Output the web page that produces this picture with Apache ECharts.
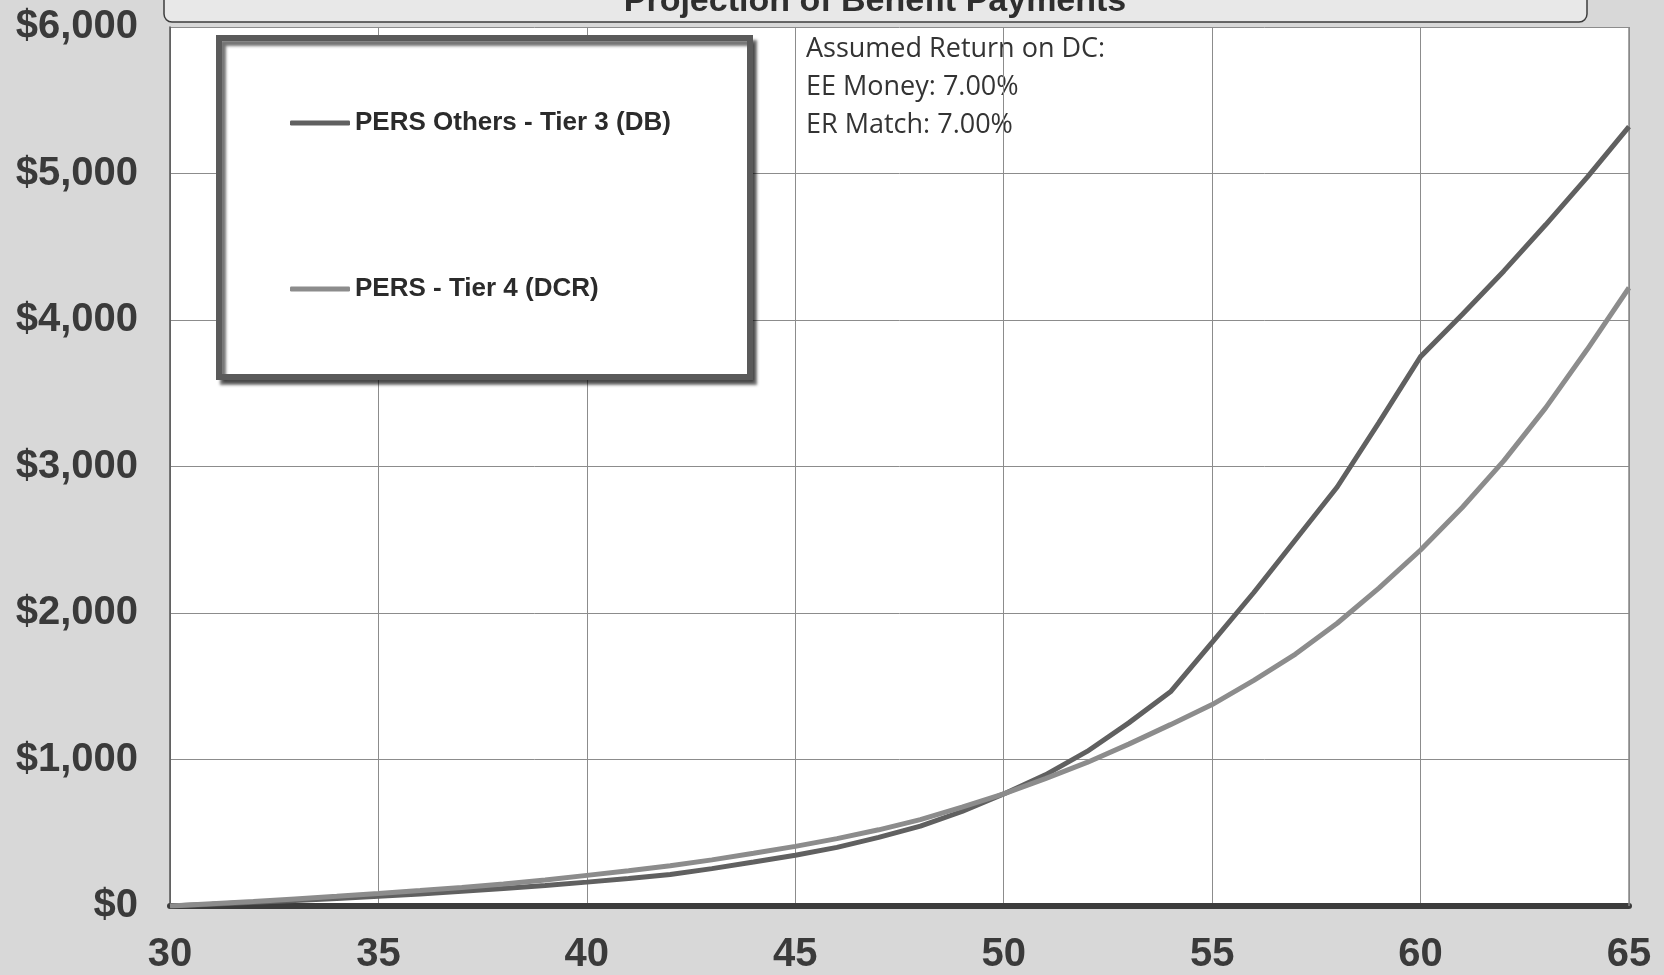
<!DOCTYPE html>
<html>
<head>
<meta charset="utf-8">
<script src="https://cdn.jsdelivr.net/npm/echarts@6/dist/echarts.min.js"></script>
<style>
html,body{margin:0;padding:0;background:#d8d8d8;}
#chart{width:1664px;height:975px;}
</style>
</head>
<body>
<div id="chart"></div>
<script>
// ---- data ----
const ages = [30,31,32,33,34,35,36,37,38,39,40,41,42,43,44,45,46,47,48,49,50,51,52,53,54,55,56,57,58,59,60,61,62,63,64,65];
const tier3DB = [0,12,25,38,52,66,82,100,120,140,163,187,215,255,300,346,400,468,545,645,765,895,1055,1250,1462,1800,2140,2500,2860,3300,3750,4037,4335,4650,4975,5320];
const tier4DCR = [0,15,30,48,66,85,105,127,150,178,209,240,275,315,360,407,460,520,590,675,765,870,980,1105,1238,1375,1540,1720,1930,2170,2430,2720,3040,3400,3800,4220];
const seriesNames = ['PERS Others - Tier 3 (DB)', 'PERS - Tier 4 (DCR)'];
const chartTitle = 'Projection of Benefit Payments';
const noteLines = ['Assumed Return on DC:', 'EE Money: 7.00%', 'ER Match: 7.00%'];
const xTicks = {min: 30, max: 65, step: 5};
const yTicks = {min: 0, max: 6000, step: 1000};

const pairs = (vals) => ages.map((a, i) => [a, vals[i]]);

const chart = echarts.init(document.getElementById('chart'));
const labelFont = {fontFamily: 'Liberation Sans, Arial, sans-serif', fontWeight: 'bold', fontSize: 40, color: '#3a3a3a'};
const noteFont = '27px "Open Sans", sans-serif';

const option = {
  backgroundColor: '#d8d8d8',
  animation: false,
  grid: {left: 170, right: 35, top: 27, bottom: 69, show: false},
  xAxis: {
    type: 'value', min: xTicks.min, max: xTicks.max, interval: xTicks.step,
    axisLine: {show: true, onZero: false, lineStyle: {color: '#3c3c3c', width: 6}},
    axisTick: {show: false},
    axisLabel: Object.assign({margin: 49, verticalAlign: 'middle'}, labelFont),
    splitLine: {show: true, lineStyle: {color: '#8c8c8c', width: 1}}
  },
  yAxis: {
    type: 'value', min: yTicks.min, max: yTicks.max, interval: yTicks.step,
    axisLine: {show: true, lineStyle: {color: '#555', width: 1.5}},
    axisTick: {show: false},
    axisLabel: Object.assign({margin: 32, formatter: v => '$' + v.toLocaleString('en-US')}, labelFont),
    splitLine: {show: true, lineStyle: {color: '#8c8c8c', width: 1}}
  },
  legend: {
    orient: 'vertical', left: 290, top: 109, padding: 0, z: 20,
    icon: 'roundRect', itemWidth: 60, itemHeight: 5, itemGap: 138,
    textStyle: {fontFamily: 'Liberation Sans, Arial, sans-serif', fontWeight: 'bold', fontSize: 26, lineHeight: 28, color: '#2b2b2b'},
    data: seriesNames
  },
  graphic: [
    {type: 'rect', z: -10, silent: true, shape: {x: 170, y: 27, width: 1459, height: 879}, style: {fill: '#ffffff'}},
    {type: 'line', z: 1, silent: true, shape: {x1: 1629, y1: 27, x2: 1629, y2: 906}, style: {stroke: '#888', lineWidth: 1.5}},
    {type: 'rect', z: 5, silent: true, shape: {x: 164, y: -30, width: 1423, height: 52, r: 8},
      style: {fill: '#e8e8e8', stroke: '#3c3c3c', lineWidth: 1.5}},
    {type: 'text', z: 6, silent: true, x: 875, y: 19,
      style: {text: chartTitle, fill: '#2e2e2e', font: 'bold 34px "Liberation Sans", Arial, sans-serif', textAlign: 'center', textVerticalAlign: 'bottom'}},
    {type: 'rect', z: 8, silent: true, shape: {x: 219, y: 38, width: 531, height: 339},
      style: {fill: '#ffffff', stroke: '#5a5a5a', lineWidth: 6, shadowColor: 'rgba(0,0,0,0.55)', shadowBlur: 3, shadowOffsetX: 4, shadowOffsetY: 5}},
    {type: 'text', z: -5, silent: true, x: 806, y: 49,
      style: {text: noteLines[0], fill: '#333', font: noteFont, textVerticalAlign: 'middle'}},
    {type: 'text', z: -5, silent: true, x: 806, y: 87,
      style: {text: noteLines[1], fill: '#333', font: noteFont, textVerticalAlign: 'middle'}},
    {type: 'text', z: -5, silent: true, x: 806, y: 125,
      style: {text: noteLines[2], fill: '#333', font: noteFont, textVerticalAlign: 'middle'}}
  ],
  series: [
    {name: seriesNames[0], type: 'line', data: pairs(tier3DB), showSymbol: false, symbol: 'none', smooth: false,
      lineStyle: {color: '#606060', width: 5}, itemStyle: {color: '#606060'}, z: 3},
    {name: seriesNames[1], type: 'line', data: pairs(tier4DCR), showSymbol: false, symbol: 'none', smooth: false,
      lineStyle: {color: '#8c8c8c', width: 5}, itemStyle: {color: '#8c8c8c'}, z: 3}
  ]
};
chart.setOption(option);
</script>
</body>
</html>
